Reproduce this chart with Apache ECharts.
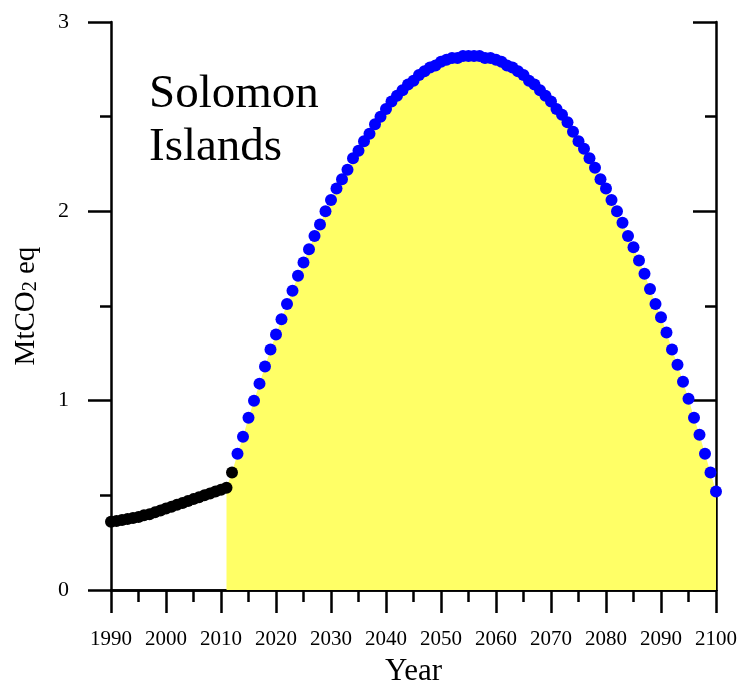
<!DOCTYPE html>
<html>
<head>
<meta charset="utf-8">
<script src="https://cdn.jsdelivr.net/npm/echarts@6/dist/echarts.min.js"></script>
<style>html,body{margin:0;padding:0;background:#fff;}#c{width:739px;height:688px;}</style>
</head>
<body>
<div id="c"></div>
<script>
// Historical (black) values, 1990-2012
const histYears = [1990,1991,1992,1993,1994,1995,1996,1997,1998,1999,2000,2001,2002,2003,2004,2005,2006,2007,2008,2009,2010,2011,2012];
const histValues = [0.36,0.365,0.37,0.375,0.38,0.385,0.395,0.40,0.41,0.42,0.43,0.44,0.45,0.46,0.47,0.48,0.49,0.50,0.51,0.52,0.53,0.54,0.62];
// Projected (blue) values, 2013-2100
const projStart = 2013;
const projValues = [0.72,0.81,0.91,1.00,1.09,1.18,1.27,1.35,1.43,1.51,1.58,1.66,1.73,1.80,1.87,1.93,2.00,2.06,2.12,2.17,
  2.22,2.28,2.32,2.37,2.41,2.46,2.50,2.54,2.58,2.61,2.64,2.67,2.69,2.72,2.74,2.76,2.77,2.79,2.80,2.81,
  2.81,2.82,2.82,2.82,2.82,2.81,2.81,2.80,2.79,2.77,2.76,2.74,2.72,2.69,2.67,2.64,2.61,2.58,2.54,2.51,
  2.47,2.42,2.37,2.33,2.28,2.23,2.17,2.12,2.06,2.00,1.94,1.87,1.81,1.74,1.67,1.59,1.51,1.44,1.36,1.27,
  1.19,1.10,1.01,0.91,0.82,0.72,0.62,0.52];
const titleLines = ['Solomon', 'Islands'];

const histData = histYears.map((y, i) => [y, histValues[i]]);
const projData = projValues.map((v, i) => [projStart + i, v]);
const areaData = histData.slice(histData.length - 2).concat(projData);

const serif = 'Liberation Serif';
const axisLine = {show: true, lineStyle: {color: '#000', width: 2.5}};

const chart = echarts.init(document.getElementById('c'));
chart.setOption({
  animation: false,
  backgroundColor: '#fff',
  title: {
    text: titleLines.join('\n'),
    left: 149, top: 68, padding: 0,
    textStyle: {fontFamily: serif, fontSize: 47, fontWeight: 'normal', color: '#000', lineHeight: 53}
  },
  grid: {left: 111, right: 23, top: 22, bottom: 98, containLabel: false, outerBoundsMode: 'none'},
  xAxis: [{
    type: 'value', min: 1990, max: 2100, interval: 10, position: 'bottom',
    axisLine: axisLine,
    axisTick: {show: true, inside: false, length: 23, lineStyle: {color: '#000', width: 2.5}},
    minorTick: {show: true, splitNumber: 2, length: 12, lineStyle: {color: '#000', width: 2.5}},
    splitLine: {show: false},
    axisLabel: {fontFamily: serif, fontSize: 21, color: '#000', margin: 39, formatter: v => String(v)},
    name: 'Year', nameLocation: 'middle', nameGap: 66,
    nameTextStyle: {fontFamily: serif, fontSize: 31, color: '#000'}
  }, {
    type: 'value', min: 1990, max: 2100, interval: 10, position: 'top',
    axisLine: axisLine,
    axisTick: {show: true, inside: true, length: 23, lineStyle: {color: '#000', width: 2.5}},
    minorTick: {show: true, splitNumber: 2, length: 12, lineStyle: {color: '#000', width: 2.5}},
    splitLine: {show: false}, axisLabel: {show: false}
  }],
  yAxis: [{
    type: 'value', min: 0, max: 3, interval: 1, position: 'left',
    axisLine: axisLine,
    axisTick: {show: true, inside: false, length: 23, lineStyle: {color: '#000', width: 2.5}},
    minorTick: {show: true, splitNumber: 2, length: 11, lineStyle: {color: '#000', width: 2.5}},
    splitLine: {show: false},
    axisLabel: {fontFamily: serif, fontSize: 22, color: '#000', margin: 42},
    name: '{m|MtCO}{s|2}{m| eq}', nameLocation: 'middle', nameGap: 70, nameRotate: 90,
    nameTextStyle: {
      fontFamily: serif, color: '#000',
      rich: {
        m: {fontFamily: serif, fontSize: 29, color: '#000', verticalAlign: 'bottom', lineHeight: 34},
        s: {fontFamily: serif, fontSize: 20, color: '#000', verticalAlign: 'bottom', lineHeight: 34, padding: [16, 0, 0, 0]}
      }
    }
  }, {
    type: 'value', min: 0, max: 3, interval: 1, position: 'right',
    axisLine: axisLine,
    axisTick: {show: true, inside: true, length: 23, lineStyle: {color: '#000', width: 2.5}},
    minorTick: {show: true, splitNumber: 2, length: 11, lineStyle: {color: '#000', width: 2.5}},
    splitLine: {show: false}, axisLabel: {show: false}
  }],
  series: [{
    type: 'line', data: areaData, showSymbol: false, symbol: 'none',
    lineStyle: {width: 0}, areaStyle: {color: '#ffff66', opacity: 1}, z: 1, silent: true
  }, {
    type: 'scatter', data: histData, symbolSize: 12,
    itemStyle: {color: '#000', opacity: 1}, z: 3
  }, {
    type: 'scatter', data: projData, symbolSize: 12,
    itemStyle: {color: '#0000ff', opacity: 1}, z: 3
  }]
});
</script>
</body>
</html>
